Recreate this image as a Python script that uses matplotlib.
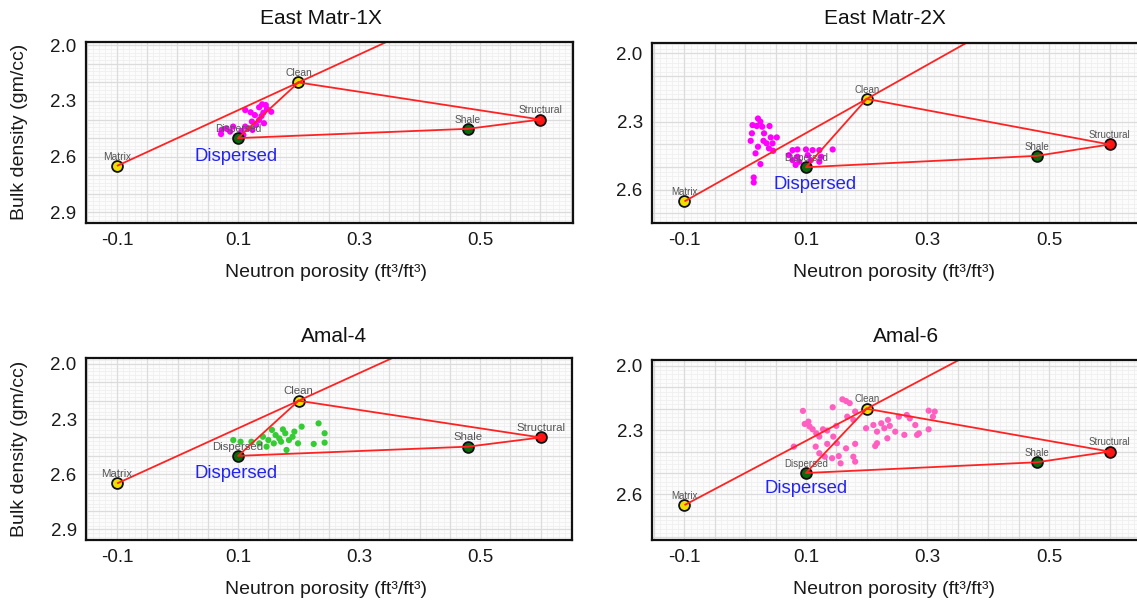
import numpy as np
import matplotlib
matplotlib.use("Agg")
import matplotlib.pyplot as plt

plt.rcParams['font.family'] = ['Liberation Sans', 'DejaVu Sans']
plt.rcParams['axes.unicode_minus'] = False

# ---------------------------------------------------------------- data
wells = ["East Matr-1X", "East Matr-2X", "Amal-4", "Amal-6"]

end_names = ["Matrix", "Clean", "Dispersed", "Shale", "Structural"]
end_nphi = [-0.10, 0.20, 0.10, 0.48, 0.60]
end_rhob = [2.65, 2.20, 2.50, 2.45, 2.40]

x_ticks = [-0.1, 0.1, 0.3, 0.5]
y_ticks = [2.0, 2.3, 2.6, 2.9]

em1x_nphi = [0.140, 0.146, 0.135, 0.148, 0.155, 0.142, 0.121, 0.112, 0.128,
             0.139, 0.135, 0.123, 0.143, 0.130, 0.112, 0.117, 0.073, 0.081,
             0.124, 0.106, 0.072, 0.109, 0.092, 0.087]
em1x_rhob = [2.318, 2.322, 2.334, 2.343, 2.358, 2.363, 2.361, 2.349, 2.376,
             2.381, 2.402, 2.411, 2.420, 2.429, 2.438, 2.447, 2.456, 2.447,
             2.456, 2.462, 2.478, 2.483, 2.438, 2.465]

em2x_nphi = [0.021, 0.025, 0.012, 0.019, 0.028, 0.040, 0.011, 0.031, 0.042,
             0.052, 0.009, 0.030, 0.035, 0.045, 0.021, 0.039, 0.046, 0.017,
             0.025, 0.014, 0.014,
             0.078, 0.086, 0.100, 0.111, 0.122, 0.144, 0.072, 0.086, 0.103,
             0.125, 0.078, 0.089, 0.108, 0.122, 0.083]
em2x_rhob = [2.286, 2.300, 2.315, 2.319, 2.322, 2.319, 2.351, 2.351, 2.369,
             2.369, 2.384, 2.384, 2.395, 2.395, 2.410, 2.417, 2.428, 2.439,
             2.486, 2.545, 2.567,
             2.425, 2.422, 2.422, 2.425, 2.425, 2.422, 2.447, 2.454, 2.447,
             2.454, 2.469, 2.476, 2.469, 2.476, 2.490]

amal4_nphi = [0.156, 0.174, 0.205, 0.233, 0.243, 0.162, 0.178, 0.190, 0.199,
              0.225, 0.243, 0.092, 0.104, 0.122, 0.135, 0.147, 0.159, 0.180,
              0.171, 0.168, 0.150, 0.141, 0.184, 0.193]
amal4_rhob = [2.359, 2.356, 2.341, 2.323, 2.377, 2.387, 2.377, 2.396, 2.432,
              2.435, 2.428, 2.414, 2.423, 2.423, 2.432, 2.450, 2.432, 2.468,
              2.423, 2.405, 2.414, 2.396, 2.414, 2.368]

amal6_nphi = [0.095, 0.104, 0.098, 0.106, 0.111, 0.117, 0.122, 0.128, 0.135,
              0.144, 0.150, 0.160, 0.166, 0.172, 0.168, 0.181, 0.178, 0.145,
              0.151, 0.166, 0.181, 0.135, 0.116, 0.122, 0.131, 0.143, 0.154,
              0.157, 0.178, 0.181, 0.080,
              0.199, 0.211, 0.217, 0.224, 0.235, 0.238, 0.247, 0.253, 0.262,
              0.266, 0.271, 0.280, 0.286, 0.302, 0.312, 0.302, 0.234, 0.217,
              0.214, 0.283, 0.229, 0.309]
amal6_rhob = [2.210, 2.260, 2.271, 2.283, 2.296, 2.315, 2.330, 2.296, 2.302,
              2.193, 2.280, 2.156, 2.164, 2.174, 2.237, 2.213, 2.252, 2.330,
              2.361, 2.385, 2.364, 2.364, 2.377, 2.408, 2.424, 2.431, 2.421,
              2.455, 2.424, 2.447, 2.377,
              2.291, 2.276, 2.307, 2.268, 2.252, 2.280, 2.307, 2.237, 2.322,
              2.229, 2.245, 2.276, 2.315, 2.209, 2.213, 2.296, 2.338, 2.361,
              2.374, 2.322, 2.291, 2.237]

well_nphi = [em1x_nphi, em2x_nphi, amal4_nphi, amal6_nphi]
well_rhob = [em1x_rhob, em2x_rhob, amal4_rhob, amal6_rhob]

# ---------------------------------------------------------------- styling
W, H, DPI = 1137, 605, 100
end_colors = ["#f0e000", "#f0e000", "#0c6a0c", "#0c6a0c", "#ff1414"]
point_colors = ["#ff00ff", "#ff00ff", "#33cc33", "#ff5fc0"]
line_red = "#ff2222"

# pixel boxes: left, right, top, bottom
boxes = [(85.5, 572.5, 42.0, 222.5),
         (651.7, 1140.0, 42.7, 223.0),
         (85.7, 572.0, 358.3, 540.0),
         (651.7, 1140.0, 359.5, 540.0)]
xlims = [(-0.152, 0.653), (-0.154, 0.650), (-0.152, 0.652), (-0.154, 0.650)]
ylims = [(2.955, 1.982), (2.745, 1.953), (2.958, 1.969), (2.813, 1.970)]
title_xy = [(321, 18), (885, 18), (334, 336), (906, 336)]
xlabel_xy = [(326, 273), (894, 273), (326, 590), (894, 590)]
ylabel_xy = [(19.5, 132), None, (19.5, 449), None]
small_fs = [7.4, 7.0, 8.2, 7.0]
big_offset_px = [(-2, -18), (9, -17), (-2, -18), (0, -16)]


def px2fig(x, y):
    return x / W, 1 - y / H


def draw_grid(ax, xlim, ylim):
    x0, x1 = min(xlim), max(xlim)
    y0, y1 = min(ylim), max(ylim)
    xf = np.arange(np.ceil(x0 / 0.01) * 0.01, x1, 0.01)
    yf = np.arange(np.ceil(y0 / 0.02) * 0.02, y1, 0.02)
    ax.vlines(xf, y0, y1, colors="#efefef", lw=0.6, zorder=0.5)
    ax.hlines(yf, x0, x1, colors="#efefef", lw=0.6, zorder=0.5)
    xm = np.arange(np.ceil(x0 / 0.05) * 0.05, x1, 0.05)
    ym = np.arange(np.ceil(y0 / 0.1) * 0.1, y1, 0.1)
    ax.vlines(xm, y0, y1, colors="#dcdcdc", lw=0.9, zorder=0.6)
    ax.hlines(ym, x0, x1, colors="#dcdcdc", lw=0.9, zorder=0.6)


fig = plt.figure(figsize=(W / DPI, H / DPI), dpi=DPI)

for i, well in enumerate(wells):
    l, r, t, b = boxes[i]
    fx0, fy1 = px2fig(l, t)
    fx1, fy0 = px2fig(r, b)
    ax = fig.add_axes([fx0, fy0, fx1 - fx0, fy1 - fy0])
    ax.set_facecolor("#fcfcfc")
    ax.set_xlim(*xlims[i])
    ax.set_ylim(*ylims[i])
    draw_grid(ax, xlims[i], ylims[i])

    # well data
    ax.scatter(well_nphi[i], well_rhob[i], s=20, color=point_colors[i],
               edgecolors="none", zorder=2)

    # end-member markers
    for n, xv, yv, c in zip(end_names, end_nphi, end_rhob, end_colors):
        ax.plot(xv, yv, "o", ms=7.8, mfc=c, mec="#111111", mew=1.3, zorder=3)
        ax.annotate(n, (xv, yv), xytext=(0, 4.5), textcoords="offset points",
                    ha="center", va="baseline", fontsize=small_fs[i],
                    color="#555555", zorder=5)

    # clean sand line from matrix through clean, extended to the top edge
    mx, cx = end_nphi[0], end_nphi[1]
    my, cy = end_rhob[0], end_rhob[1]
    ytop = min(ylims[i])
    xtop = mx + (ytop - my) * (cx - mx) / (cy - my)
    ax.plot([mx, xtop], [my, ytop], color=line_red, lw=1.3, zorder=4,
            solid_capstyle="butt")

    # clean - structural - shale - dispersed - clean
    order = [1, 4, 3, 2, 1]
    ax.plot([end_nphi[k] for k in order], [end_rhob[k] for k in order],
            color=line_red, lw=1.3, zorder=4)

    dx, dy = big_offset_px[i]
    ax.annotate("Dispersed", (end_nphi[2], end_rhob[2]),
                xytext=(dx * 0.72, dy * 0.72), textcoords="offset points",
                ha="center", va="center", fontsize=13.3, color="#2424f0",
                zorder=6)

    ax.set_xticks(x_ticks)
    ax.set_xticklabels([f"{v:.1f}" for v in x_ticks])
    yt = [v for v in y_ticks if min(ylims[i]) <= v <= max(ylims[i])]
    ax.set_yticks(yt)
    ax.set_yticklabels([f"{v:.1f}" for v in yt])
    ax.tick_params(length=0, pad=6.5, labelsize=13.5, colors="#1a1a1a")
    for sp in ax.spines.values():
        sp.set_color("#111111")
        sp.set_linewidth(1.6)
        sp.set_zorder(7)

    tx, ty = px2fig(*title_xy[i])
    fig.text(tx, ty, well, ha="center", va="center", fontsize=15,
             color="#111111")
    lx, ly = px2fig(*xlabel_xy[i])
    fig.text(lx, ly, "Neutron porosity (ft³/ft³)", ha="center", va="center",
             fontsize=14, color="#1a1a1a")
    if ylabel_xy[i] is not None:
        yx, yy = px2fig(*ylabel_xy[i])
        fig.text(yx, yy, "Bulk density (gm/cc)", ha="center", va="center",
                 rotation=90, fontsize=14, color="#1a1a1a")

fig.savefig("out.png", dpi=DPI, facecolor="white")
